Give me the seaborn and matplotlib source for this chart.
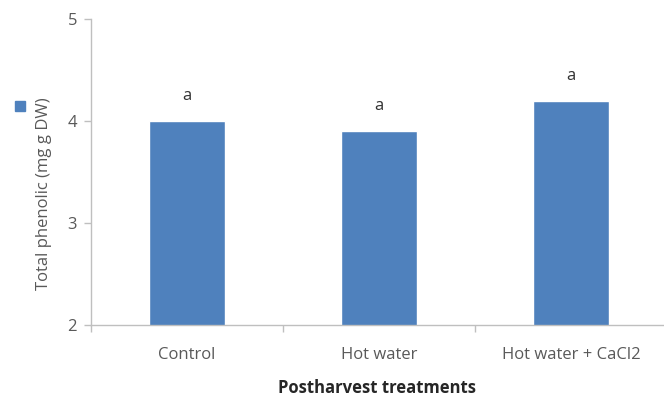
import matplotlib
matplotlib.use("Agg")
import matplotlib.pyplot as plt
import matplotlib.patches as mpatches
import pandas as pd
import seaborn as sns

# ── Data ──────────────────────────────────────────────────────────────────────
treatments = ["Control", "Hot water", "Hot water + CaCl2"]
phenolic = [4.0, 3.9, 4.2]
letters = ["a", "a", "a"]
y_ticks = [2, 3, 4, 5]

BAR = "#4F81BD"
GRID = "#BFBFBF"
TEXT = "#595959"

sns.set_theme(style="white")
plt.rcParams["font.family"] = ["Open Sans", "DejaVu Sans"]

df = pd.DataFrame({"treatment": treatments, "phenolic": phenolic})

fig = plt.figure(figsize=(6.64, 3.99), dpi=100)
ax = fig.add_axes([0.137, 0.1855, 0.863, 0.767])

sns.barplot(data=df, x="treatment", y="phenolic", color=BAR, width=0.4,
            saturation=1, ax=ax)

for i, (v, lab) in enumerate(zip(phenolic, letters)):
    ax.annotate(lab, (i, v), xytext=(0, 18), textcoords="offset points",
                ha="center", va="center", fontsize=12, color="#333333")

ax.set_ylim(2, 5)
ax.set_yticks(y_ticks)
ax.set_xlim(-0.5, 2.484)

for side in ["top", "right"]:
    ax.spines[side].set_visible(False)
for side in ["left", "bottom"]:
    ax.spines[side].set_color(GRID)
    ax.spines[side].set_linewidth(1.0)

ax.tick_params(axis="y", direction="out", length=5, width=1, color=GRID,
               labelsize=12, labelcolor=TEXT, pad=5, left=True)
# category separators as x ticks, labels as minor ticks
ax.set_xticks([-0.5, 0.5, 1.5], minor=False)
ax.set_xticklabels([])
ax.tick_params(axis="x", which="major", direction="out", length=5, width=1,
               color=GRID, bottom=True)
ax.set_xticks(range(len(treatments)), minor=True)
ax.set_xticklabels(treatments, minor=True)
ax.tick_params(axis="x", which="minor", length=0, labelsize=12,
               labelcolor=TEXT, pad=16)

ax.set_xlabel("Postharvest treatments", fontsize=12, fontweight="bold",
              color="#262626", va="center")
ax.xaxis.set_label_coords(0.5, -0.205)
ax.set_ylabel("Total phenolic (mg g DW)", fontsize=12, color=TEXT,
              va="center")
ax.yaxis.set_label_coords(-0.082, 0.43)

handle = mpatches.Patch(color=BAR)
fig.legend([handle], [""], loc="center left", bbox_to_anchor=(0.007, 0.73),
           frameon=False, handlelength=0.6, handleheight=0.6,
           handletextpad=0, borderaxespad=0.3)

fig.savefig("out.png", dpi=100)
